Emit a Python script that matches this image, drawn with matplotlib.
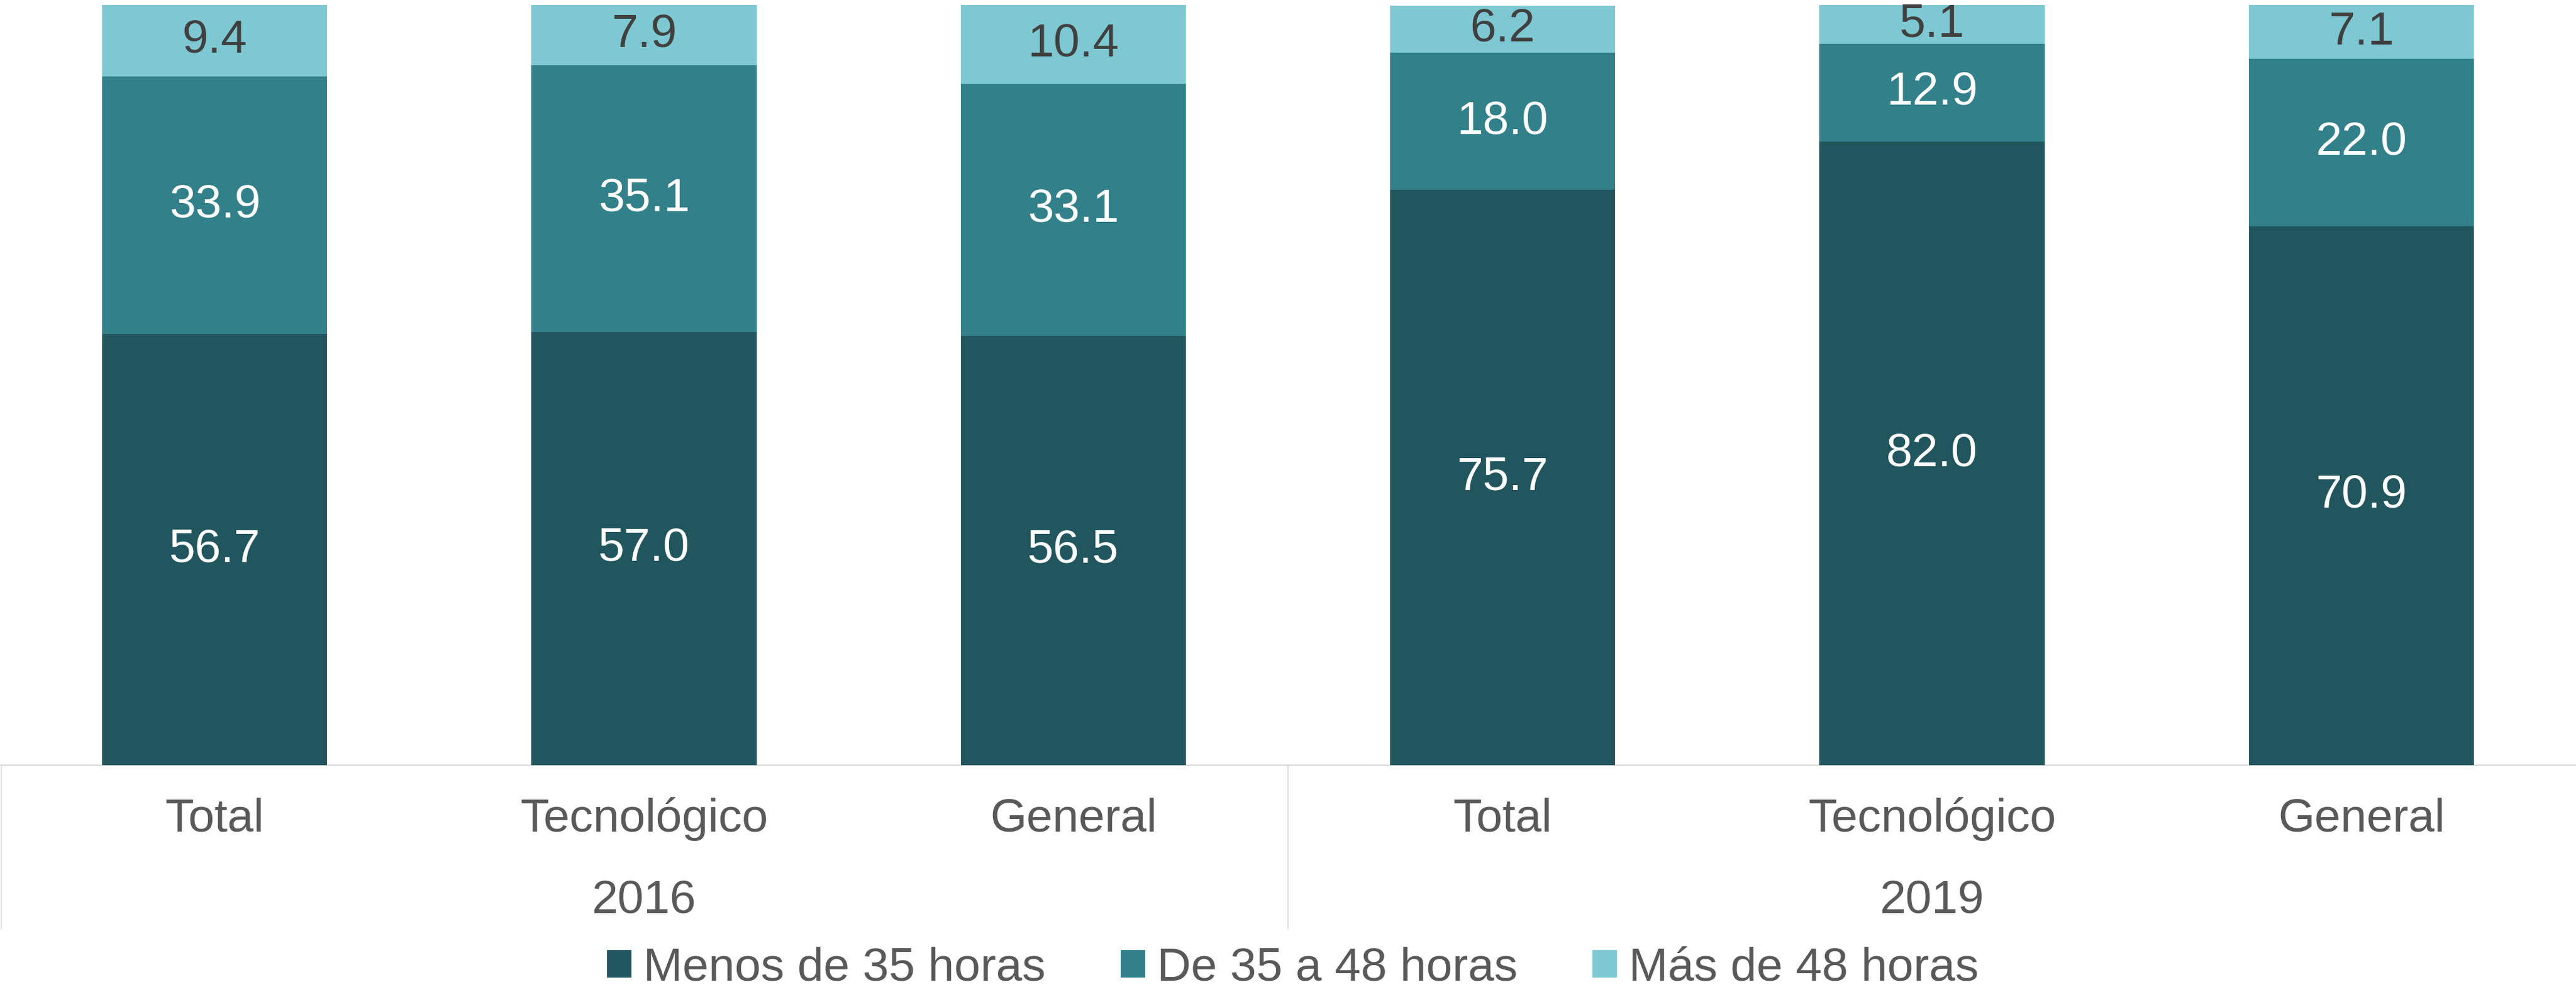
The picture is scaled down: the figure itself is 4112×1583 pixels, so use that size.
import matplotlib
matplotlib.use("Agg")
import matplotlib.pyplot as plt
from matplotlib.patches import Patch
from matplotlib.lines import Line2D

plt.rcParams['font.family'] = ['Liberation Sans', 'DejaVu Sans']

categories = ["Total", "Tecnológico", "General", "Total", "Tecnológico", "General"]
years = ["2016", "2019"]
series_names = ["Menos de 35 horas", "De 35 a 48 horas", "Más de 48 horas"]
menos35 = [56.7, 57.0, 56.5, 75.7, 82.0, 70.9]
de35a48 = [33.9, 35.1, 33.1, 18.0, 12.9, 22.0]
mas48 = [9.4, 7.9, 10.4, 6.2, 5.1, 7.1]

colors = ["#21565F", "#31808A", "#7DC8D2"]
label_colors = ["white", "white", "#404040"]
tick_color = "#595959"
grid_color = "#D9D9D9"

W, H, DPI = 4112, 1583, 100
fig = plt.figure(figsize=(W / DPI, H / DPI), dpi=DPI)
ax = fig.add_axes([0, 362 / H, 1, (1575 - 362) / H])

x = list(range(len(categories)))
bottom = [0.0] * len(x)
fs = 54
for vals, col, lc in zip([menos35, de35a48, mas48], colors, label_colors):
    ax.bar(x, vals, width=0.524, bottom=bottom, color=col, edgecolor="none")
    for xi, v, b in zip(x, vals, bottom):
        ax.text(xi, b + v / 2, f"{v:.1f}", ha="center", va="center",
                color=lc, fontsize=fs)
    bottom = [b + v for b, v in zip(bottom, vals)]

ax.set_xlim(-0.5, len(x) - 0.5)
ax.set_ylim(0, 100)
for s in ax.spines.values():
    s.set_visible(False)
ax.set_yticks([])
ax.set_xticks([])

# axis line
ax.axhline(0, color=grid_color, lw=1.6, clip_on=False, zorder=0)

# category labels, years and separators (in data x / axes-fraction y)
trans = ax.get_xaxis_transform()
px = 1 / (1575 - 362)  # one pixel in axes fraction
for xi, c in zip(x, categories):
    ax.text(xi, -(1307 - 1221) * px, c, transform=trans, ha="center",
            va="center", fontsize=fs, color=tick_color)
for gi, yr in enumerate(years):
    ax.text(gi * 3 + 1, -(1438 - 1221) * px, yr, transform=trans,
            ha="center", va="center", fontsize=fs, color=tick_color)
for sx in [-0.5 + 2 / 685.3, 2.5]:
    ax.add_line(Line2D([sx, sx], [0, -(1482 - 1221) * px], transform=trans,
                       color=grid_color, lw=1.2, clip_on=False))

handles = [Patch(facecolor=c, edgecolor="none") for c in colors]
leg = fig.legend(handles, series_names, loc="center",
                 bbox_to_anchor=(0.5 + 8 / W, 1 - 1545 / H), ncol=3, frameon=False,
                 fontsize=fs, handlelength=0.52, handleheight=0.52,
                 handletextpad=0.25, columnspacing=1.6, labelcolor=tick_color)

fig.savefig("out.png", dpi=DPI, facecolor="white")
